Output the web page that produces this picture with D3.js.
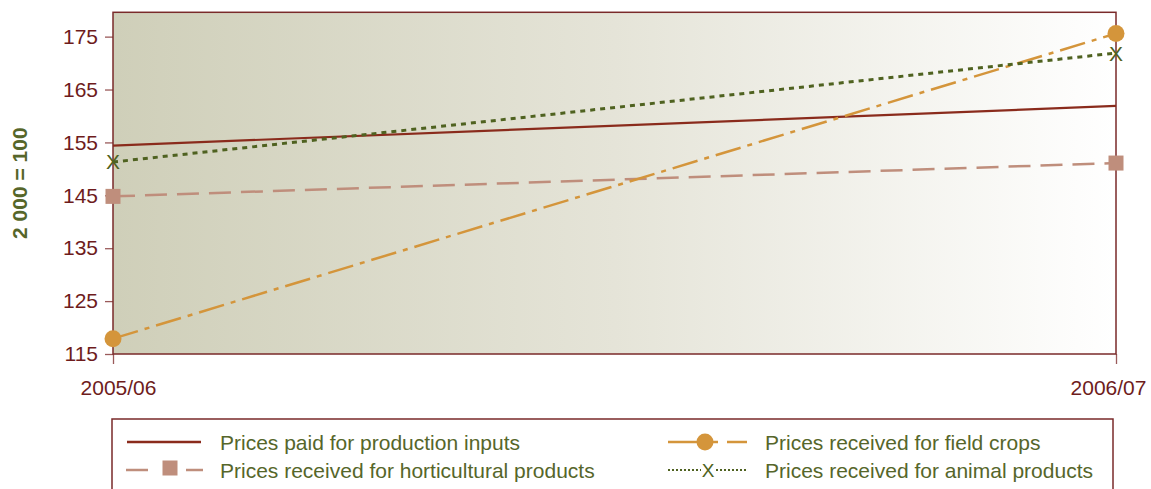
<!DOCTYPE html>
<html><head><meta charset="utf-8">
<script src="https://cdn.jsdelivr.net/npm/d3@7"></script>
<style>body{margin:0;background:#fff;} svg{display:block;font-family:"Liberation Sans",Arial,sans-serif;}</style>
</head><body>
<svg id="c" width="1151" height="489"></svg>
<script>
const categories = ["2005/06", "2006/07"];
const paidInputs = [154.4, 161.9];
const horticultural = [144.8, 151.1];
const fieldCrops = [117.9, 175.6];
const animalProducts = [151.3, 171.9];
const yTicks = [115, 125, 135, 145, 155, 165, 175];
const seriesNames = ["Prices paid for production inputs", "Prices received for horticultural products", "Prices received for field crops", "Prices received for animal products"];

const svg = d3.select("#c");
const L = 113, R = 1116, T = 12.3, B = 354;
const x = d3.scalePoint().domain(categories).range([L, R]);
const y = d3.scaleLinear().domain([115, 179.6]).range([B, T]);
const red = "#6e1c1c", green = "#56662a";
const FS = 21;

const defs = svg.append("defs");
const g = defs.append("linearGradient").attr("id", "bg").attr("x1", "0").attr("x2", "1").attr("y1", "0").attr("y2", "0");
g.append("stop").attr("offset", "0").attr("stop-color", "#cfcfb9");
g.append("stop").attr("offset", "0.5").attr("stop-color", "#e5e4d8");
g.append("stop").attr("offset", "1").attr("stop-color", "#ffffff");

svg.append("rect").attr("x", L).attr("y", T).attr("width", R - L).attr("height", B - T).attr("fill", "url(#bg)");

// y axis
const ya = svg.append("g").attr("transform", `translate(${L},0)`)
  .call(d3.axisLeft(y).tickValues(yTicks).tickSize(8).tickPadding(7));
ya.attr("font-size", FS).attr("font-family", "Liberation Sans, Arial, sans-serif");
ya.select(".domain").remove();
ya.selectAll(".tick line").attr("stroke", "#9a5a5a").attr("stroke-width", 1.3);
ya.selectAll(".tick text").attr("fill", red);

// x axis
const xa = svg.append("g").attr("transform", `translate(0,${B})`)
  .call(d3.axisBottom(x).tickSize(10).tickPadding(16));
xa.attr("font-size", FS).attr("font-family", "Liberation Sans, Arial, sans-serif");
xa.select(".domain").remove();
xa.selectAll(".tick line").attr("stroke", "#9a5a5a").attr("stroke-width", 1.3);
xa.selectAll(".tick text").attr("fill", red).attr("dx", (d, i) => i === 0 ? 5 : -8);

// frame
svg.append("rect").attr("x", L).attr("y", T).attr("width", R - L).attr("height", B - T)
  .attr("fill", "none").attr("stroke", "#7a2a2a").attr("stroke-width", 1.5);

// y title
svg.append("text").attr("transform", `translate(27,${(T + B) / 2}) rotate(-90)`)
  .attr("text-anchor", "middle").attr("fill", green).attr("font-weight", "bold").attr("font-size", FS)
  .text("2 000 = 100");

const styles = [
  {data: paidInputs, color: "#8a2b1c", dash: null, width: 2.2},
  {data: horticultural, color: "#bf8e7c", dash: "22,10", width: 2.5},
  {data: fieldCrops, color: "#d4953b", dash: "26,7,5,7", width: 2.5},
  {data: animalProducts, color: "#4f6220", dash: "5,5", width: 3}
];
const line = d3.line().x((d, i) => x(categories[i])).y(d => y(d));
styles.forEach(s => {
  svg.append("path").attr("d", line(s.data)).attr("fill", "none").attr("stroke", s.color)
    .attr("stroke-width", s.width).attr("stroke-dasharray", s.dash);
});

function marker(sel, type, cx, cy, color) {
  if (type === "square") sel.append("rect").attr("x", cx - 7.5).attr("y", cy - 7.5).attr("width", 15).attr("height", 15).attr("fill", color);
  else if (type === "circle") sel.append("circle").attr("cx", cx).attr("cy", cy).attr("r", 8.5).attr("fill", color);
  else if (type === "x") sel.append("text").attr("x", cx).attr("y", cy + 7.5).attr("text-anchor", "middle")
    .attr("fill", color).attr("font-size", 21).text("X");
}
categories.forEach((c, i) => {
  marker(svg, "square", x(c), y(horticultural[i]), "#bf8e7c");
  marker(svg, "circle", x(c), y(fieldCrops[i]), "#d4953b");
  marker(svg, "x", x(c), y(animalProducts[i]), "#4f6220");
});

// legend
svg.append("rect").attr("x", 112).attr("y", 419).attr("width", 1001).attr("height", 100)
  .attr("fill", "none").attr("stroke", "#7a2a2a").attr("stroke-width", 1.5);
const leg = svg.append("g");
function legText(tx, ty, t) {
  leg.append("text").attr("x", tx).attr("y", ty + 7.5).attr("fill", green).attr("font-size", FS).text(t);
}
// 1
leg.append("line").attr("x1", 127).attr("x2", 201).attr("y1", 442).attr("y2", 442).attr("stroke", "#8a2b1c").attr("stroke-width", 2.5);
legText(220, 442, seriesNames[0]);
// 2
leg.append("line").attr("x1", 126).attr("x2", 148).attr("y1", 470).attr("y2", 470).attr("stroke", "#bf8e7c").attr("stroke-width", 2.5);
leg.append("line").attr("x1", 186).attr("x2", 203).attr("y1", 470).attr("y2", 470).attr("stroke", "#bf8e7c").attr("stroke-width", 2.5);
marker(leg, "square", 170, 468, "#bf8e7c");
legText(220, 470, seriesNames[1]);
// 3
leg.append("line").attr("x1", 668).attr("x2", 718).attr("y1", 442).attr("y2", 442).attr("stroke", "#d4953b").attr("stroke-width", 2.5);
leg.append("line").attr("x1", 727).attr("x2", 747).attr("y1", 442).attr("y2", 442).attr("stroke", "#d4953b").attr("stroke-width", 2.5);
marker(leg, "circle", 705, 442, "#d4953b");
legText(765, 442, seriesNames[2]);
// 4
leg.append("line").attr("x1", 668).attr("x2", 746).attr("y1", 470).attr("y2", 470).attr("stroke", "#4f6220").attr("stroke-width", 1.8).attr("stroke-dasharray", "2,2");
leg.append("rect").attr("x", 701).attr("y", 462).attr("width", 14).attr("height", 16).attr("fill", "#fff");
leg.append("text").attr("x", 708).attr("y", 477).attr("text-anchor", "middle").attr("fill", "#4f6220").attr("font-size", 19).text("X");
legText(765, 470, seriesNames[3]);
</script>
</body></html>
